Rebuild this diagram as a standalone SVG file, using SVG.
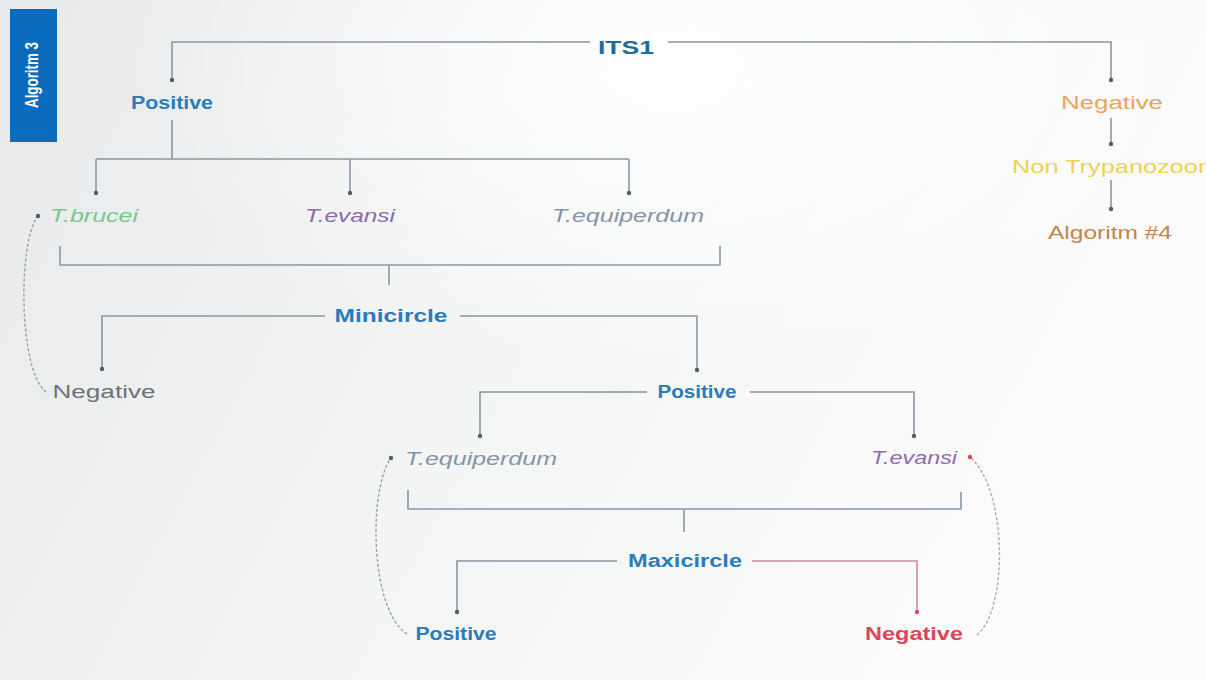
<svg xmlns="http://www.w3.org/2000/svg" width="1206" height="680" viewBox="0 0 1206 680">
  <defs>
    <linearGradient id="bg" x1="0" y1="0" x2="1" y2="0.3">
      <stop offset="0" stop-color="#e8e9ea"/>
      <stop offset="0.55" stop-color="#f4f5f5"/>
      <stop offset="1" stop-color="#fbfbfb"/>
    </linearGradient>
    <radialGradient id="glow" cx="0.55" cy="0.1" r="0.45">
      <stop offset="0" stop-color="#ffffff" stop-opacity="0.9"/>
      <stop offset="1" stop-color="#ffffff" stop-opacity="0"/>
    </radialGradient>
    <marker id="dot" viewBox="0 0 6 6" refX="3" refY="3" markerWidth="6" markerHeight="6" markerUnits="userSpaceOnUse">
      <circle cx="3" cy="3" r="2.2" fill="#4f5e6c"/>
    </marker>
    <marker id="dotRed" viewBox="0 0 6 6" refX="3" refY="3" markerWidth="6" markerHeight="6" markerUnits="userSpaceOnUse">
      <circle cx="3" cy="3" r="2.2" fill="#d9485a"/>
    </marker>
  </defs>
  <style>
    .ln { fill: none; stroke: #8a97a4; stroke-width: 1.6; }
    .lnr { fill: none; stroke: #cc9098; stroke-width: 1.6; }
    .curve { fill: none; stroke: #9aa1a8; stroke-width: 1.4; stroke-dasharray: 3 2; }
    .curver { fill: none; stroke: #c9a0a6; stroke-width: 1.4; stroke-dasharray: 3 2; }
    text { font-family: "Liberation Sans", Arial, sans-serif; font-size: 18px; text-anchor: middle; }
    .b { font-weight: bold; fill: #2b7cb9; }
    .it { font-style: italic; }
  </style>

  <rect width="1206" height="680" fill="url(#bg)"/>
  <rect width="1206" height="680" fill="url(#glow)"/>

  <!-- side tab -->
  <g id="tab">
    <rect x="10" y="9" width="47" height="133" fill="#0b6bbd"/>
    <text transform="translate(38,75) rotate(-90)" font-size="12" font-weight="bold" fill="#ffffff" textLength="66" lengthAdjust="spacingAndGlyphs">Algoritm 3</text>
  </g>

  <!-- connectors -->
  <g id="connectors">
    <!-- ITS1 split -->
    <path class="ln" d="M590 42 H172 V80" marker-end="url(#dot)"/>
    <path class="ln" d="M668 42 H1111 V80" marker-end="url(#dot)"/>
    <!-- right branch chain -->
    <path class="ln" d="M1111 118 V144" marker-end="url(#dot)"/>
    <path class="ln" d="M1111 180 V209" marker-end="url(#dot)"/>
    <!-- Positive to species -->
    <path class="ln" d="M172 120 V159"/>
    <path class="ln" d="M96 159 H629"/>
    <path class="ln" d="M96 159 V193" marker-end="url(#dot)"/>
    <path class="ln" d="M350 159 V193" marker-end="url(#dot)"/>
    <path class="ln" d="M629 159 V193" marker-end="url(#dot)"/>
    <!-- upper bracket -->
    <path class="ln" d="M60 246 V265 H720 V246"/>
    <path class="ln" d="M389 265 V285"/>
    <!-- Minicircle split -->
    <path class="ln" d="M325 316 H102 V369" marker-end="url(#dot)"/>
    <path class="ln" d="M460 316 H697 V370" marker-end="url(#dot)"/>
    <!-- middle Positive split -->
    <path class="ln" d="M647 392 H480 V436" marker-end="url(#dot)"/>
    <path class="ln" d="M750 392 H914 V436" marker-end="url(#dot)"/>
    <!-- lower bracket -->
    <path class="ln" d="M408 490 V509 H961 V492"/>
    <path class="ln" d="M684 509 V532"/>
    <!-- Maxicircle split -->
    <path class="ln" d="M617 561 H457 V612" marker-end="url(#dot)"/>
    <path class="lnr" d="M752 561 H917 V612" marker-end="url(#dotRed)"/>
    <!-- feedback curves -->
    <path class="curve" d="M46 392 C18 370, 18 240, 38 216" marker-end="url(#dot)"/>
    <path class="curve" d="M407 634 C370 610, 368 490, 391 458" marker-end="url(#dot)"/>
    <path class="curver" d="M977 635 C1008 610, 1008 490, 970 457" marker-end="url(#dotRed)"/>
  </g>

  <!-- nodes -->
  <g id="its1"><text x="626" y="54" font-size="27" font-weight="bold" fill="#1f6b9b" textLength="56" lengthAdjust="spacingAndGlyphs">ITS1</text></g>
  <g id="positive-its1"><text class="b" x="172" y="109" textLength="82" lengthAdjust="spacingAndGlyphs">Positive</text></g>
  <g id="negative-its1"><text x="1112" y="109" fill="#eba35e" textLength="102" lengthAdjust="spacingAndGlyphs">Negative</text></g>
  <g id="non-trypanozoon"><text x="1112" y="173" fill="#f2cf55" textLength="200" lengthAdjust="spacingAndGlyphs">Non Trypanozoon</text></g>
  <g id="algoritm-4"><text x="1110" y="239" fill="#c0854c" textLength="124" lengthAdjust="spacingAndGlyphs">Algoritm #4</text></g>

  <g id="t-brucei"><text class="it" x="94" y="222" fill="#78c98a" textLength="88" lengthAdjust="spacingAndGlyphs">T.brucei</text></g>
  <g id="t-evansi-1"><text class="it" x="350" y="222" fill="#8c6ab0" textLength="90" lengthAdjust="spacingAndGlyphs">T.evansi</text></g>
  <g id="t-equiperdum-1"><text class="it" x="628" y="222" fill="#8595a8" textLength="152" lengthAdjust="spacingAndGlyphs">T.equiperdum</text></g>

  <g id="minicircle"><text class="b" x="391" y="322" textLength="113" lengthAdjust="spacingAndGlyphs">Minicircle</text></g>
  <g id="negative-mini"><text x="104" y="398" fill="#6f7275" textLength="103" lengthAdjust="spacingAndGlyphs">Negative</text></g>
  <g id="positive-mini"><text class="b" x="697" y="398" textLength="79" lengthAdjust="spacingAndGlyphs">Positive</text></g>

  <g id="t-equiperdum-2"><text class="it" x="481" y="465" fill="#8595a8" textLength="152" lengthAdjust="spacingAndGlyphs">T.equiperdum</text></g>
  <g id="t-evansi-2"><text class="it" x="914" y="464" fill="#8c6ab0" textLength="86" lengthAdjust="spacingAndGlyphs">T.evansi</text></g>

  <g id="maxicircle"><text class="b" x="685" y="567" textLength="114" lengthAdjust="spacingAndGlyphs">Maxicircle</text></g>
  <g id="positive-maxi"><text class="b" x="456" y="640" textLength="81" lengthAdjust="spacingAndGlyphs">Positive</text></g>
  <g id="negative-maxi"><text x="914" y="640" font-weight="bold" fill="#d9485a" textLength="98" lengthAdjust="spacingAndGlyphs">Negative</text></g>
</svg>
